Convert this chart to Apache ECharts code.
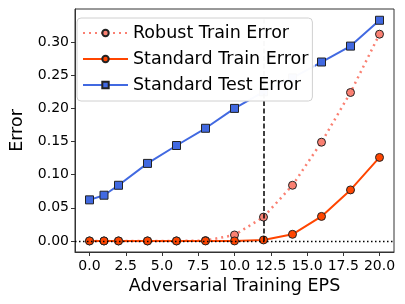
<!DOCTYPE html>
<html>
<head>
<meta charset="utf-8">
<script src="https://cdn.jsdelivr.net/npm/echarts@6/dist/echarts.min.js"></script>
<style>html,body{margin:0;padding:0;background:#fff}#c{width:405px;height:304px}</style>
</head>
<body>
<div id="c"></div>
<script>
const eps = [0, 1, 2, 4, 6, 8, 10, 12, 14, 16, 18, 20];
const robustTrain = [0, 0, 0, 0, 0, 0.0005, 0.009, 0.036, 0.084, 0.149, 0.224, 0.312];
const standardTrain = [0, 0, 0, 0, 0, 0, 0, 0.0015, 0.010, 0.037, 0.077, 0.126];
const standardTest = [0.062, 0.069, 0.084, 0.117, 0.144, 0.170, 0.200, 0.225, 0.246, 0.270, 0.294, 0.333];
const xTicks = [0, 2.5, 5, 7.5, 10, 12.5, 15, 17.5, 20];
const yTicks = [0, 0.05, 0.10, 0.15, 0.20, 0.25, 0.30];
const markerEps = 12;

const pairs = ys => eps.map((x, i) => [x, ys[i]]);
const font = 'DejaVu Sans';

const chart = echarts.init(document.getElementById('c'), null, {renderer: 'canvas'});
chart.setOption({
  animation: false,
  textStyle: {fontFamily: font},
  grid: {left: 68, top: 9, right: 11, bottom: 52, show: true, borderColor: '#333', borderWidth: 1, backgroundColor: 'transparent'},
  xAxis: {
    type: 'value', min: -1, max: 21,
    name: 'Adversarial Training EPS', nameLocation: 'middle', nameGap: 21,
    nameTextStyle: {fontSize: 17.5, color: '#000', fontFamily: font},
    axisLine: {show: true, onZero: false, lineStyle: {color: '#333', width: 1}},
    axisTick: {show: true, length: 4, lineStyle: {color: '#333'}, customValues: xTicks},
    axisLabel: {customValues: xTicks, formatter: v => v.toFixed(1), fontSize: 14, color: '#000', margin: 7, fontFamily: font},
    splitLine: {show: false}
  },
  yAxis: {
    type: 'value', min: -0.0167, max: 0.35,
    name: 'Error', nameLocation: 'middle', nameGap: 49, nameRotate: 90,
    nameTextStyle: {fontSize: 17.5, color: '#000', fontFamily: font},
    axisLine: {show: true, onZero: false, lineStyle: {color: '#333', width: 1}},
    axisTick: {show: true, length: 4, lineStyle: {color: '#333'}, customValues: yTicks},
    axisLabel: {customValues: yTicks, formatter: v => v.toFixed(2), fontSize: 14, color: '#000', margin: 6, fontFamily: font},
    splitLine: {show: false}
  },
  legend: {
    orient: 'vertical', left: 77, top: 18, zlevel: 1, z: 20,
    padding: [5, 4, 6, 5], itemGap: 6, itemWidth: 45, itemHeight: 8,
    backgroundColor: 'rgba(255,255,255,0.85)', borderColor: '#d0d0d0', borderWidth: 1, borderRadius: 4,
    textStyle: {fontSize: 17.5, color: '#000', lineHeight: 20, fontFamily: font},
    data: ['Robust Train Error', 'Standard Train Error', 'Standard Test Error']
  },
  series: [
    {
      name: 'Robust Train Error', type: 'line', data: pairs(robustTrain), z: 2,
      symbol: 'circle', symbolSize: 8,
      lineStyle: {color: '#FA8072', width: 2.5, type: [2, 4]},
      itemStyle: {color: '#FA8072', borderColor: '#222', borderWidth: 1}
    },
    {
      name: 'Standard Train Error', type: 'line', data: pairs(standardTrain), z: 3,
      symbol: 'circle', symbolSize: 8,
      lineStyle: {color: '#FF4500', width: 2},
      itemStyle: {color: '#FF4500', borderColor: '#222', borderWidth: 1}
    },
    {
      name: 'Standard Test Error', type: 'line', data: pairs(standardTest), z: 3,
      symbol: 'rect', symbolSize: 8,
      lineStyle: {color: '#4169E1', width: 2},
      itemStyle: {color: '#4169E1', borderColor: '#222', borderWidth: 1}
    },
    {
      name: 'refs', type: 'line', data: [], z: 3.5, silent: true,
      markLine: {
        silent: true, symbol: 'none', label: {show: false}, animation: false,
        data: [
          {yAxis: 0, lineStyle: {color: '#000', width: 1.3, type: [1.5, 2.5]}},
          [{coord: [markerEps, 0], lineStyle: {color: '#000', width: 1.5, type: [5, 2.5]}}, {coord: [markerEps, 0.334]}]
        ]
      }
    }
  ],
  graphic: [{
    type: 'rect', zlevel: 1, z: 10, silent: true,
    shape: {x: 77, y: 18, width: 238, height: 83, r: 4},
    style: {fill: 'rgba(255,255,255,0.8)', stroke: 'transparent'}
  }]
});
</script>
</body>
</html>
